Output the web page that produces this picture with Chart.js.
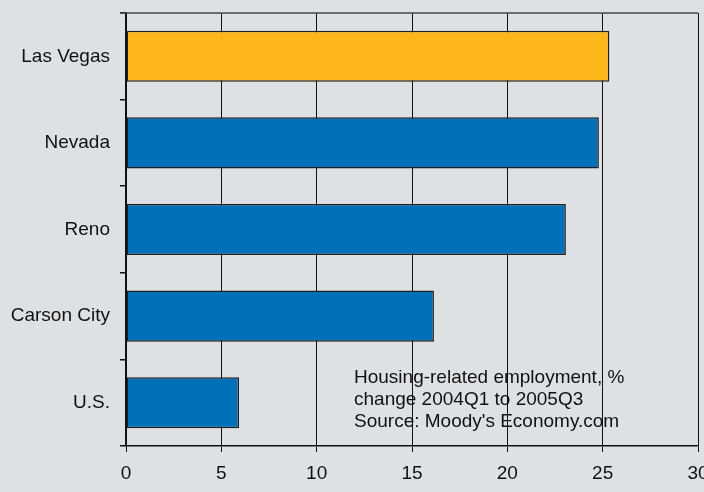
<!DOCTYPE html>
<html>
<head>
<meta charset="utf-8">
<script src="https://cdn.jsdelivr.net/npm/chart.js@4"></script>
<style>
  html, body { margin: 0; padding: 0; background: #dee1e4; }
  #wrap { position: relative; width: 704px; height: 492px; }
  #chart { display: block; }
  #note {
    position: absolute; left: 354px; top: 366px;
    font: 19px "Liberation Sans", Arial, sans-serif; line-height: 22px;
    color: #111;
  }
</style>
</head>
<body>
<div id="wrap">
  <canvas id="chart" width="704" height="492"></canvas>
  <div id="note">Housing-related employment, %<br>change 2004Q1 to 2005Q3<br>Source: Moody's Economy.com</div>
</div>
<script>
var places = ['Las Vegas', 'Nevada', 'Reno', 'Carson City', 'U.S.'];
var change = [25.35, 24.8, 23.07, 16.15, 5.93];
var barColors = ['#fdb71c', '#0070b8', '#0070b8', '#0070b8', '#0070b8'];
var xTicks = [0, 5, 10, 15, 20, 25, 30];

var font = { family: '"Liberation Sans", Arial, sans-serif', size: 19 };

// top frame line
var topLine = {
  id: 'topLine',
  afterDraw: function(chart) {
    var a = chart.chartArea, c = chart.ctx;
    c.save();
    c.strokeStyle = '#444';
    c.lineWidth = 1.5;
    c.beginPath();
    c.moveTo(a.left - 6, a.top);
    c.lineTo(a.right, a.top);
    c.stroke();
    c.restore();
  }
};

var ctx = document.getElementById('chart');
var myBarChart = new Chart(ctx, {
  type: 'bar',
  data: {
    labels: places,
    datasets: [
      {
        label: 'change',
        backgroundColor: barColors,
        borderColor: '#1e1e1e',
        borderWidth: 1.5,
        borderSkipped: false,
        barPercentage: 0.59,
        categoryPercentage: 1,
        data: change
      }
    ]
  },
  options: {
    indexAxis: 'y',
    responsive: false,
    animation: false,
    layout: { padding: { top: 13, right: 6, left: 0, bottom: 0 } },
    plugins: {
      legend: { display: false },
      tooltip: { enabled: false }
    },
    scales: {
      x: {
        min: 0,
        max: 30,
        afterFit: function(scale) {
          scale.height = 46;
          scale.paddingLeft = 0;
          scale.paddingRight = 0;
        },
        afterBuildTicks: function(scale) {
          scale.ticks = xTicks.map(function(v) { return { value: v }; });
        },
        border: { color: '#111', width: 1.5 },
        grid: { color: '#111', lineWidth: 1, tickLength: 6, tickColor: '#111' },
        ticks: { color: '#111', font: font, padding: 10, maxRotation: 0, autoSkip: false }
      },
      y: {
        afterFit: function(scale) {
          scale.width = 126;
          scale.paddingTop = 0;
          scale.paddingBottom = 0;
        },
        border: { color: '#111', width: 1.5 },
        grid: {
          offset: true,
          drawOnChartArea: false,
          tickLength: 6,
          tickColor: '#111',
          lineWidth: 1.5
        },
        ticks: { color: '#111', font: font, padding: 10 }
      }
    }
  },
  plugins: [topLine]
});
</script>
</body>
</html>
